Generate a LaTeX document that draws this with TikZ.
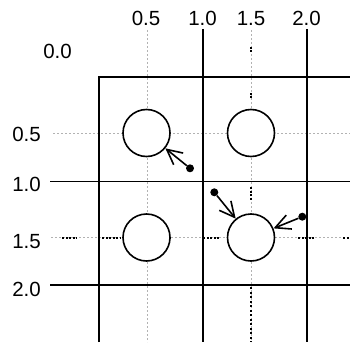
\documentclass[tikz,border=0pt]{standalone}
\usepackage{fontspec}
\setmainfont{Liberation Sans}
\usetikzlibrary{arrows.meta}
\begin{document}
\begin{tikzpicture}[x=1pt,y=-1pt,
  lbl/.style={inner sep=0pt,font=\fontsize{20.5}{24}\selectfont},
  frameline/.style={line width=1.6pt,black},
  guide/.style={line width=0.5pt,gray!60,dash pattern=on 2pt off 2pt},
  blackdots/.style={line width=2pt,black,dash pattern=on 2pt off 1.5pt},
  ring/.style={circle,draw,line width=1.6pt,minimum size=47pt,inner sep=0pt},
  dotnode/.style={circle,fill=black,minimum size=8pt,inner sep=0pt},
  pointer/.style={line width=1.6pt,-{Straight Barb[length=15pt,width=15pt,line width=1.6pt]}}]
\useasboundingbox (0,0) rectangle (350,342);
% guide lines
\draw[guide] (147.5,30) -- (147.5,342);
\draw[guide] (251,30) -- (251,342);
\draw[guide] (53,133) -- (350,133);
\draw[guide] (51,237.5) -- (350,237.5);
% black dotted overlays
\foreach \a/\b in {62/77,102/120,169/172,203/220,298/315,343/350}
  \draw[blackdots] (\a,237.5) -- (\b,237.5);
\foreach \a/\b in {47/53,93/99,187/200}
  \draw[blackdots] (251,\a) -- (251,\b);
\draw[line width=2pt,black,dash pattern=on 2pt off 2.5pt] (251,287) -- (251,342);
% frame and grid
\draw[frameline] (99,342) -- (99,77) -- (350,77);
\draw[frameline] (203,29) -- (203,342);
\draw[frameline] (307,29) -- (307,342);
\draw[frameline] (50,181.5) -- (350,181.5);
\draw[frameline] (50,285) -- (350,285);
% labels
\node[lbl] (t05) at (146,18.5) {0.5};
\node[lbl] (t10) at (202.5,18.5) {1.0};
\node[lbl] (t15) at (251,18.5) {1.5};
\node[lbl] (t20) at (306.5,18.5) {2.0};
\node[lbl] (l00) at (57.5,51) {0.0};
\node[lbl] (l05) at (26.5,134.5) {0.5};
\node[lbl] (l10) at (26.5,184.5) {1.0};
\node[lbl] (l15) at (26.5,241.5) {1.5};
\node[lbl] (l20) at (26.5,289.5) {2.0};
% circles
\node[ring,fill=white] (c1) at (146.5,133) {};
\node[ring,fill=white] (c2) at (251,133) {};
\node[ring,fill=white] (c3) at (146.5,237.5) {};
\node[ring,fill=white] (c4) at (251,237.5) {};
% dots and arrows
\node[dotnode] (d1) at (190,168.3) {};
\node[dotnode] (d2) at (214.3,192.3) {};
\node[dotnode] (d3) at (302.3,216.7) {};
\draw[pointer] (d1) -- (c1);
\draw[pointer] (d2) -- (c4);
\draw[pointer] (d3) -- (c4);
\end{tikzpicture}
\end{document}
